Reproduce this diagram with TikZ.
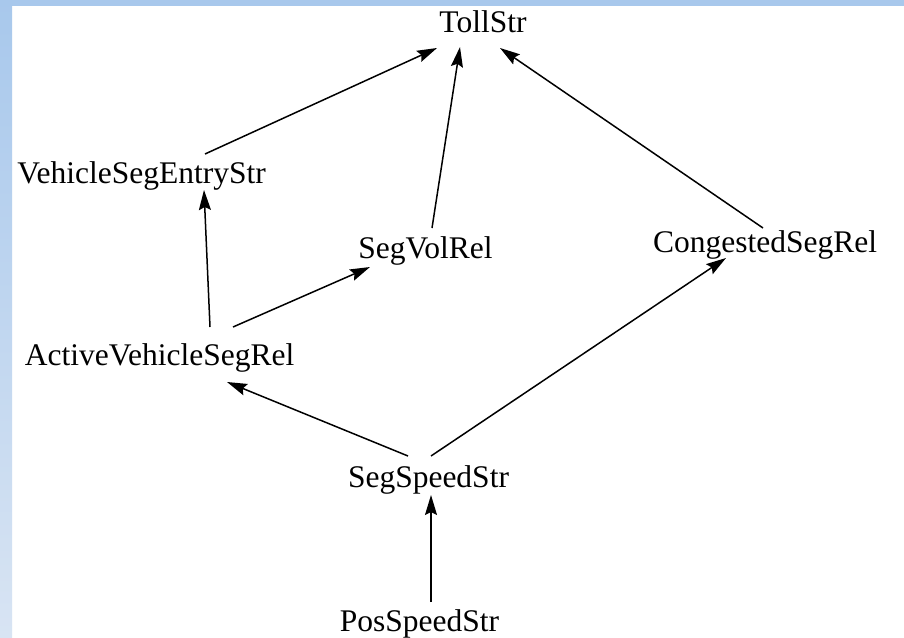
\documentclass[tikz,border=0pt]{standalone}
\usepackage{fontspec}
\setmainfont{Liberation Serif}
\usetikzlibrary{arrows.meta}
\definecolor{bandtop}{RGB}{168,200,236}
\definecolor{bandbot}{RGB}{216,228,243}
\begin{document}
\begin{tikzpicture}[x=1pt,y=-1pt,
  lbl/.style={inner sep=0pt,anchor=base,font=\fontsize{31.5}{36}\selectfont},
  edge/.style={line width=1.5pt,-{Stealth[length=20pt,width=12pt,inset=3pt]}}]
  % page and frame bands
  \useasboundingbox (0,0) rectangle (904,637);
  \fill[white] (0,0) rectangle (904,637);
  \shade[top color=bandtop,bottom color=bandbot] (0,0) rectangle (12,637);
  \fill[bandtop] (0,0) rectangle (904,6);

  % nodes, placed on their baselines
  \node[lbl] (toll)     at (483,32)    {TollStr};
  \node[lbl] (veh)      at (141.5,183) {VehicleSegEntryStr};
  \node[lbl] (segvol)   at (425.5,258) {SegVolRel};
  \node[lbl] (cong)     at (765,252)   {CongestedSegRel};
  \node[lbl] (active)   at (159.5,365) {ActiveVehicleSegRel};
  \node[lbl] (segspeed) at (428.5,487) {SegSpeedStr};
  \node[lbl] (pos)      at (419.5,631) {PosSpeedStr};

  % dependencies
  \draw[edge] ([shift={(63.5,-29)}]veh.base)    -- ([shift={(-46,16)}]toll.base);
  \draw[edge] ([shift={(6.5,-30)}]segvol.base)  -- ([shift={(-23,15)}]toll.base);
  \draw[edge] ([shift={(-2,-24)}]cong.base)     -- ([shift={(17,16)}]toll.base);
  \draw[edge] ([shift={(50.5,-38)}]active.base) -- ([shift={(62.5,7)}]veh.base);
  \draw[edge] ([shift={(73.5,-38)}]active.base) -- ([shift={(-55.5,9)}]segvol.base);
  \draw[edge] ([shift={(-20.5,-31)}]segspeed.base) -- ([shift={(67.5,17)}]active.base);
  \draw[edge] ([shift={(2.5,-31)}]segspeed.base)   -- ([shift={(-39,6)}]cong.base);
  \draw[edge] ([shift={(11.5,-29)}]pos.base)    -- ([shift={(2.5,8)}]segspeed.base);
\end{tikzpicture}
\end{document}
